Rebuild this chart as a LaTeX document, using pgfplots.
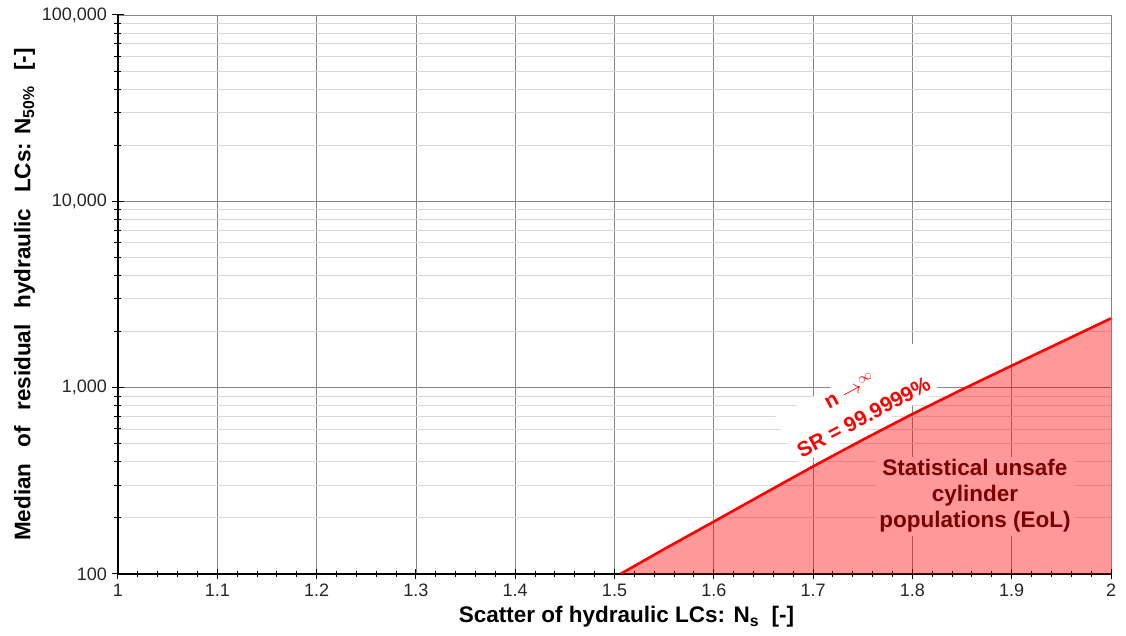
\documentclass[border=0pt]{standalone}
\usepackage{fontspec}
\setmainfont{Liberation Sans}
\usepackage{pgfplots}
\pgfplotsset{compat=1.18}
\usepackage{pgfplotstable}

\definecolor{gridmaj}{RGB}{134,134,134}
\definecolor{gridmin}{RGB}{217,217,217}
\definecolor{darkred}{RGB}{122,0,0}
\definecolor{pinkfill}{RGB}{255,153,153}

\pgfplotstableread{
x y
1.506 100
1.55 136
1.60 191
1.65 269
1.70 378
1.75 525
1.80 722
1.85 977
1.90 1312
1.95 1758
2.00 2355
}\curve

\begin{document}
\begin{tikzpicture}
\begin{axis}[
  scale only axis, width=993pt, height=559pt,
  xmin=1, xmax=2, ymin=100, ymax=100000, ymode=log,
  xtick={1,1.1,1.2,1.3,1.4,1.5,1.6,1.7,1.8,1.9,2},
  minor x tick num=4,
  ytick={100,1000,10000,100000},
  log ticks with fixed point,
  /pgf/number format/1000 sep={,},
  /pgf/number format/assume math mode=true,
  axis x line*=bottom, axis y line*=left,
  x axis line style={-, line width=1.3pt, black},
  y axis line style={-, line width=1.3pt, black},
  xmajorgrids, ymajorgrids, yminorgrids,
  major grid style={gridmaj, line width=0.8pt},
  minor grid style={gridmin, line width=0.9pt},
  tick align=center,
  major tick length=11pt, minor tick length=7pt,
  tick style={black, line width=1pt},
  ticklabel style={font=\fontsize{18}{20}\selectfont, text=black!85},
  xticklabel style={yshift=-1pt},
  yticklabel style={xshift=-2pt},
  xlabel={\textbf{Scatter of hydraulic LCs: N\textsubscript{s}\ \ [-]}},
  ylabel={\textbf{Median\hspace{0.7em}of\hspace{0.7em}residual\hspace{0.7em}hydraulic\hspace{0.7em}LCs: N\textsubscript{50\%}\hspace{0.7em}[-]}},
  label style={font=\fontsize{22.5}{26}\selectfont},
  xlabel style={yshift=-3pt, xshift=12pt},
  ylabel style={yshift=0pt},
  clip=true,
]
\addplot[fill=red, fill opacity=0.4, draw=none] table[x=x,y=y] {\curve} -- (axis cs:2,100) -- cycle;
\addplot[red, line width=2.6pt] table[x=x,y=y] {\curve};
\node[rotate=28, fill=white, text=red, font=\fontsize{21}{30}\selectfont\bfseries, align=center, inner sep=5pt] at (axis cs:1.744,815) {n $\rightarrow^{\infty}$\\SR = 99.9999\%};
\node[fill=pinkfill, text=darkred, font=\fontsize{22.5}{26}\selectfont\bfseries, align=center, inner sep=3pt] at (axis cs:1.863,262) {Statistical unsafe\\cylinder\\populations (EoL)};
\end{axis}
\pgfresetboundingbox
\path ([shift={(-118pt,-62pt)}]current axis.south west) rectangle ([shift={(15pt,15pt)}]current axis.north east);
\end{tikzpicture}
\end{document}
